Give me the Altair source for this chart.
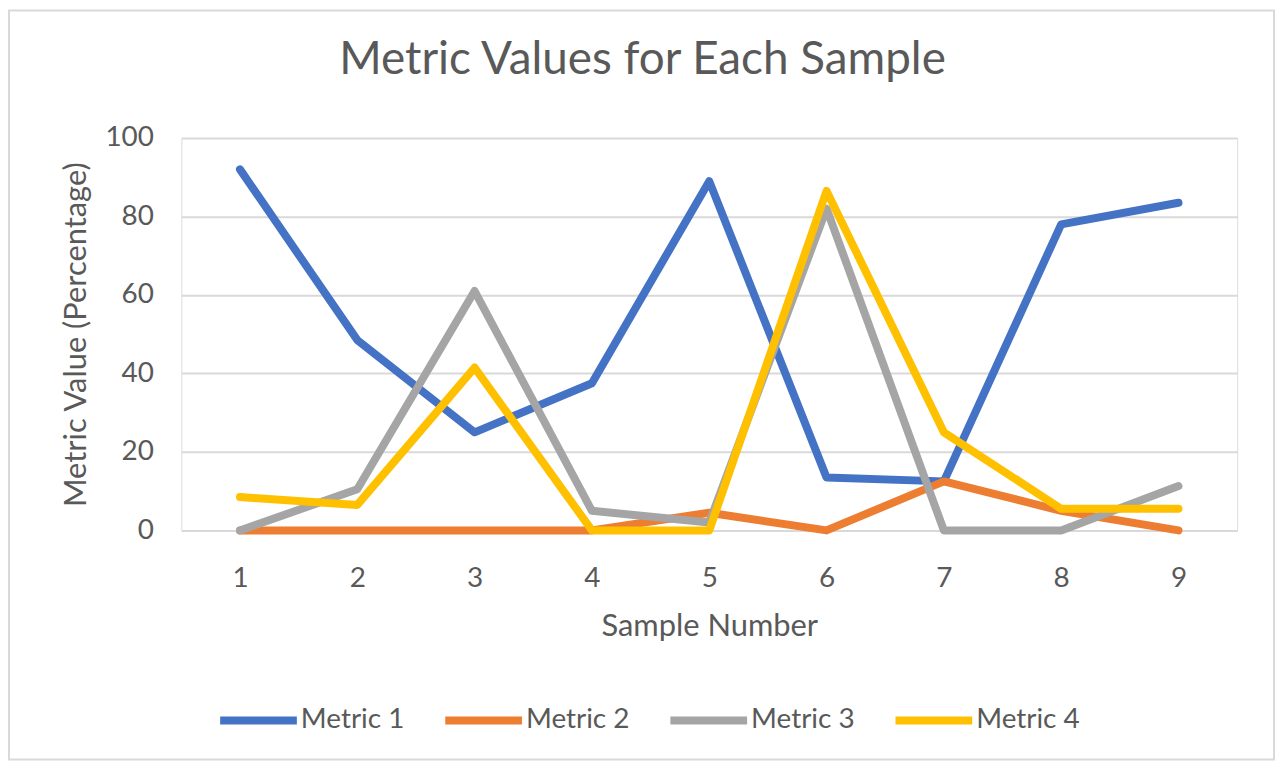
import altair as alt
import pandas as pd

samples = [1, 2, 3, 4, 5, 6, 7, 8, 9]
metric_1 = [92, 48.5, 25, 37.5, 89, 13.5, 12.5, 78, 83.5]
metric_2 = [0, 0, 0, 0, 4.5, 0, 12.5, 5, 0]
metric_3 = [0, 10.5, 61, 5, 2, 82, 0, 0, 11.3]
metric_4 = [8.5, 6.5, 41.5, 0, 0, 86.5, 25, 5.5, 5.5]
series_names = ["Metric 1", "Metric 2", "Metric 3", "Metric 4"]
series_colors = ["#4472C4", "#ED7D31", "#A5A5A5", "#FFC000"]

rows = []
for name, vals in zip(series_names, [metric_1, metric_2, metric_3, metric_4]):
    for s, v in zip(samples, vals):
        rows.append({"Sample": s, "Value": v, "Metric": name})
df = pd.DataFrame(rows)

FONT = "Lato"
TXT = "#595959"

lines = alt.Chart(df).mark_line(strokeWidth=8, strokeCap="round", strokeJoin="round").encode(
    x=alt.X("Sample:O", title="Sample Number",
            scale=alt.Scale(type="point", padding=0.5),
            axis=alt.Axis(labelAngle=0, domain=False, ticks=False, grid=False,
                          labelFont=FONT, labelFontSize=28, labelColor=TXT, labelPadding=34,
                          titleFont=FONT, titleFontSize=31, titleColor=TXT, titleFontWeight="normal",
                          titlePadding=19)),
    y=alt.Y("Value:Q", title="Metric Value (Percentage)",
            scale=alt.Scale(domain=[0, 100], nice=False),
            axis=alt.Axis(values=[0, 20, 40, 60, 80, 100], domain=False, ticks=False,
                          gridColor="#D9D9D9", gridWidth=2,
                          labelFont=FONT, labelFontSize=28, labelColor=TXT, labelPadding=28,
                          titleFont=FONT, titleFontSize=31, titleColor=TXT, titleFontWeight="normal",
                          titlePadding=12)),
    color=alt.Color("Metric:N", scale=alt.Scale(domain=series_names, range=series_colors),
                    legend=alt.Legend(title=None, orient="none", direction="horizontal",
                                      legendX=35, legendY=542, symbolType="stroke",
                                      symbolStrokeWidth=8, symbolSize=5929,
                                      labelFont=FONT, labelFontSize=28, labelColor=TXT,
                                      labelOffset=0, columnPadding=25)),
)

border = alt.Chart(pd.DataFrame({"a": [0]})).mark_rect(
    fill=None, stroke="#D9D9D9", strokeWidth=2
).encode(x=alt.value(-173), x2=alt.value(1097), y=alt.value(-128), y2=alt.value(624))

chart = alt.layer(border, lines).properties(
    width=1060, height=394,
    title=alt.TitleParams("Metric Values for Each Sample", font=FONT, fontSize=46,
                          fontWeight="normal", color=TXT, anchor="middle", dx=-67,
                          baseline="alphabetic", offset=-111),
    autosize=alt.AutoSizeParams(type="none"),
    padding={"left": 174, "top": 129, "right": 38, "bottom": 231},
).configure_view(stroke=None).configure(background="white")

chart.save("out.html", embed_options={"renderer": "svg", "actions": False})
